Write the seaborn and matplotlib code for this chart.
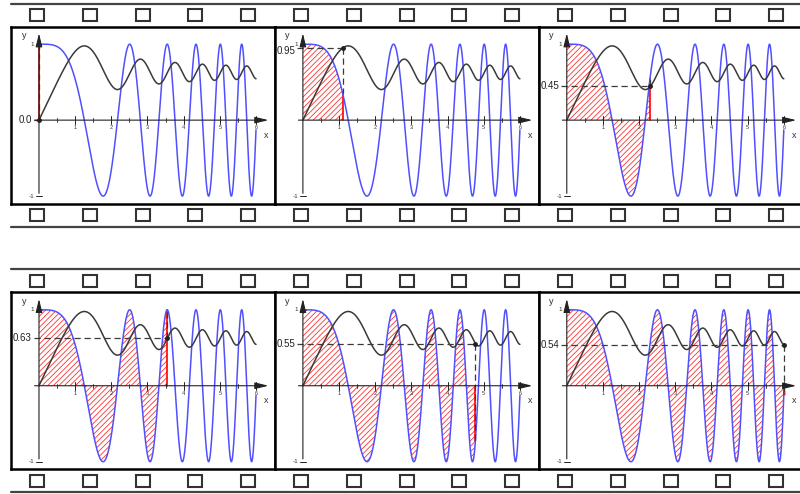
import numpy as np
import matplotlib
matplotlib.use("Agg")
import matplotlib.pyplot as plt
import seaborn as sns
from matplotlib.patches import Rectangle

# values (end point of each frame, and its label)
x_end = [0.0, 1.1, 2.3, 3.55, 4.77, 6.0]
end_values = [0.0, 0.95, 0.45, 0.63, 0.55, 0.54]
end_labels = ["0.0", "0.95", "0.45", "0.63", "0.55", "0.54"]
x_ticks = [1, 2, 3, 4, 5, 6]
x_minor = [0.5, 1.5, 2.5, 3.5, 4.5, 5.5]
y_ticks = [-1, 1]

sns.set_style("white")
plt.rcParams['font.family'] = ['Liberation Sans', 'DejaVu Sans']
plt.rcParams['hatch.linewidth'] = 0.6

# the curves: f(x) = cos(x^2) and its running integral
xs = np.linspace(0, 6, 2000)
f = np.cos(xs ** 2)
F = np.concatenate([[0], np.cumsum((f[1:] + f[:-1]) / 2 * np.diff(xs))])

fig = plt.figure(figsize=(8, 4.94), dpi=100)

# film strip decoration in pixel coordinates
bg = fig.add_axes([0, 0, 1, 1])
bg.set_xlim(0, 800)
bg.set_ylim(494, 0)
bg.axis('off')

W, H = 264.3, 177
for row in range(2):
    top = 26.7 + 265.6 * row
    for yl in (top - 23, top + H + 23):
        bg.plot([11, 800], [yl, yl], color='#444444', lw=1.6)
    for ysq in (top - 17.7, top + H + 5.3):
        for k in range(15):
            bg.add_patch(Rectangle((30 + 52.8 * k, ysq), 14, 12, facecolor='white',
                                   edgecolor='#333333', lw=1.5))

blue = '#5050ff'
dark = '#3a3a3a'

for i in range(6):
    row, col = divmod(i, 3)
    left = 10.7 + 263.9 * col
    top = 26.7 + 265.6 * row
    ax = fig.add_axes([left / 800, 1 - (top + H) / 494, W / 800, H / 494])
    ax.set_xlim(-0.782, 6.525)
    ax.set_ylim(-1.10, 1.23)
    for s in ax.spines.values():
        s.set_linewidth(1.8)
        s.set_color('black')
        s.set_visible(True)
    ax.set_xticks([])
    ax.set_yticks([])

    xe = x_end[i]
    v = end_values[i]
    fe = np.cos(xe ** 2)

    # hatched area under f up to the end point
    if xe > 0:
        xf = xs[xs <= xe]
        xf = np.append(xf, xe)
        ax.fill_between(xf, 0, np.cos(xf ** 2), facecolor='none', edgecolor='#ff3030',
                        hatch='//////', linewidth=0)
    ax.plot([xe, xe], [0, fe], color='red', lw=1.2)

    # axes with arrows
    ax.annotate('', xy=(6.42, 0), xytext=(-0.2, 0),
                arrowprops=dict(arrowstyle='-|>,head_length=0.9,head_width=0.22',
                                lw=0.8, color='#222222', mutation_scale=9))
    ax.annotate('', xy=(0, 1.18), xytext=(0, -1.0),
                arrowprops=dict(arrowstyle='-|>,head_length=0.9,head_width=0.22',
                                lw=0.8, color='#222222', mutation_scale=9))
    for t in x_ticks:
        ax.plot([t, t], [-0.05, 0.05], color='#222222', lw=0.7)
        ax.text(t, -0.07, str(t), fontsize=4, ha='center', va='top', color='#333333')
    for t in x_minor:
        ax.plot([t, t], [-0.025, 0.025], color='#222222', lw=0.6)
    for t in y_ticks:
        ax.plot([-0.08, 0.08], [t, t], color='#222222', lw=0.7)
        ax.text(-0.13, t, str(t), fontsize=4.5, ha='right', va='center', color='#333333')
    ax.text(6.22, -0.2, 'x', fontsize=6.5, ha='left', va='center', color='#333333')
    ax.text(-0.42, 1.11, 'y', fontsize=6.5, ha='center', va='center', color='#333333')

    # curves
    sns.lineplot(x=xs, y=f, ax=ax, color=blue, lw=1.1, errorbar=None)
    sns.lineplot(x=xs, y=F, ax=ax, color=dark, lw=1.1, errorbar=None)
    ax.set_xlabel('')
    ax.set_ylabel('')

    # dashed guide lines and the current value
    ax.plot([-0.15, xe], [v, v], color=dark, lw=0.9, ls=(0, (5, 3)))
    ax.plot([xe, xe], [v, fe], color=dark, lw=0.9, ls=(0, (5, 3)))
    ax.plot([xe], [v], 'o', ms=2.5, color='#222222')
    label_y = v - 0.04 if i == 1 else v
    ax.text(-0.2, label_y, end_labels[i], fontsize=7, ha='right', va='center', color='#222222')

fig.savefig('out.png', dpi=100)
